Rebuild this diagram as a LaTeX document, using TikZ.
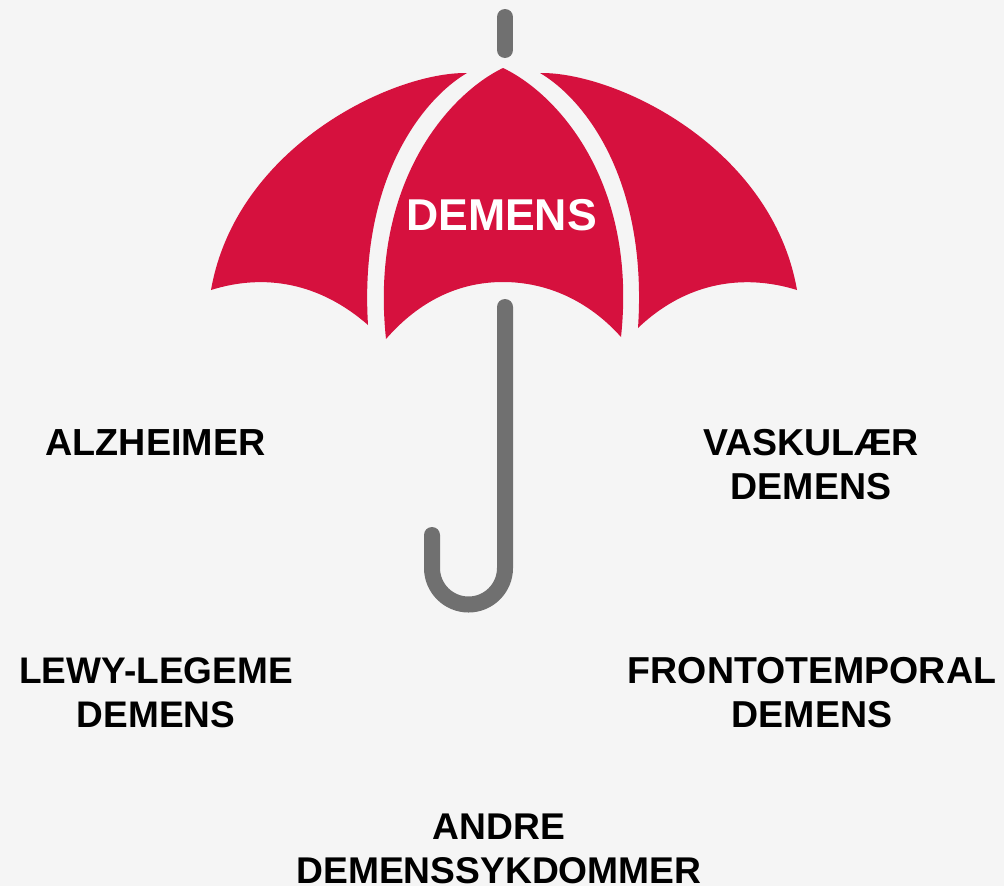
\documentclass[tikz,border=0pt]{standalone}
\usepackage{fontspec}
\setmainfont{Liberation Sans}
\definecolor{bgc}{HTML}{F5F5F5}
\definecolor{redc}{HTML}{D6113E}
\definecolor{grayc}{HTML}{707070}
\newcommand{\lblfont}[1]{\fontsize{#1}{44}\selectfont\bfseries}
\tikzset{
  panel/.style={fill=redc,draw=none},
  pole/.style={draw=grayc,line width=16pt,line cap=round},
  label/.style={align=center,text=black,inner sep=0pt,font=\lblfont{37.5}},
  title/.style={text=white,inner sep=0pt,font=\fontsize{44.6}{50}\selectfont\bfseries}
}
\begin{document}
\begin{tikzpicture}[x=1pt,y=-1pt]
\fill[bgc] (0,0) rectangle (1004,886);
\useasboundingbox (0,0) rectangle (1004,886);
% left panel
\fill[panel] (467,73) .. controls (392,72) and (236,147) .. (211,290)
  .. controls (265,273) and (320,283) .. (368,325)
  .. controls (359,178) and (423.5,98.5) .. (467,73) -- cycle;
% centre panel
\fill[panel] (503,68) .. controls (449,94) and (369.5,183) .. (386,339)
  .. controls (420,300) and (460,282) .. (503,282)
  .. controls (546,282) and (588,300) .. (621,337)
  .. controls (637.5,183) and (558,94) .. (503,68) -- cycle;
% right panel
\fill[panel] (540,73) .. controls (583.5,98.5) and (648,178) .. (638,328)
  .. controls (685,283) and (742,273) .. (797,290)
  .. controls (772,147) and (616,72) .. (540,73) -- cycle;
% poles
\draw[pole] (505,17) -- (505,50);
\draw[pole] (505,307) -- (505,568) arc[start angle=0,end angle=180,radius=36.5] -- (432,535);
% labels
\node[title] (demens) at (501.5,215) {DEMENS};
\node[label,font=\lblfont{37.7}] (alz) at (155.5,443) {ALZHEIMER};
\node[label] (vask) at (811,465) {VASKULÆR\\DEMENS};
\node[label,font=\lblfont{37}] (lewy) at (156,693) {LEWY-LEGEME\\DEMENS};
\node[label] (front) at (812,693) {FRONTOTEMPORAL\\DEMENS};
\node[label,font=\lblfont{37.2}] (andre) at (499,848.5) {ANDRE\\DEMENSSYKDOMMER};
\end{tikzpicture}
\end{document}
